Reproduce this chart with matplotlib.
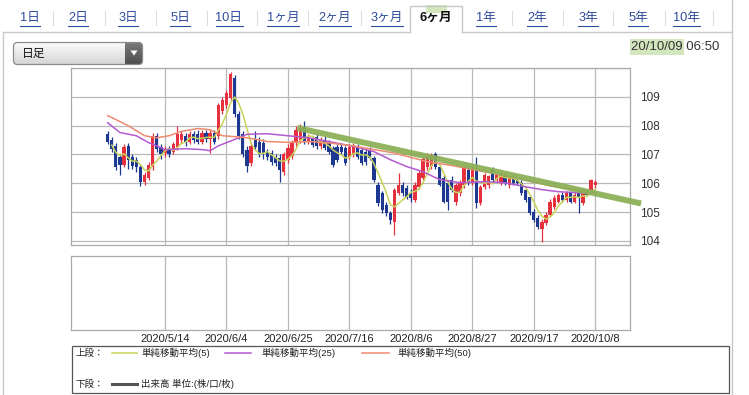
import numpy as np
import pandas as pd
import matplotlib
matplotlib.use('Agg')
import matplotlib.pyplot as plt
from matplotlib.patches import Rectangle, FancyBboxPatch, Polygon
from matplotlib.colors import LinearSegmentedColormap

plt.rcParams['font.family'] = ['Liberation Sans', 'Noto Sans CJK JP', 'DejaVu Sans']

# ---------------- data ----------------
tabs = ['1日', '2日', '3日', '5日', '10日', '1ヶ月', '2ヶ月', '3ヶ月', '6ヶ月',
        '1年', '2年', '3年', '5年', '10年']
active_tab = '6ヶ月'
timestamp_date = '20/10/09'
timestamp_time = '06:50'
dropdown_label = '日足'

dates = pd.bdate_range('2020-04-24', '2020-10-08')
date_ticks = ['2020/5/14', '2020/6/4', '2020/6/25', '2020/7/16', '2020/8/6',
              '2020/8/27', '2020/9/17', '2020/10/8']
y_ticks = [104, 105, 106, 107, 108, 109]

opens = [107.70, 107.50, 107.30, 106.90, 106.65, 107.30, 106.90, 106.80, 106.55, 106.05,
         106.20, 106.55, 107.65, 107.25, 107.05, 107.15, 107.10, 107.25, 107.50, 107.65,
         107.45, 107.70, 107.70, 107.45, 107.75, 107.55, 107.75, 107.65, 108.50, 108.70,
         108.95, 109.65, 108.40, 107.70, 107.17, 106.70, 107.55, 107.45, 107.40, 107.10,
         107.05, 106.90, 106.88, 106.40, 106.82, 106.95, 107.40, 107.50, 107.93, 107.45,
         107.58, 107.60, 107.30, 107.50, 107.40, 107.24, 107.27, 107.27, 107.24, 106.92,
         107.00, 107.27, 107.17, 107.10, 107.17, 106.89, 105.95, 105.67, 105.26, 104.98,
         104.67, 105.67, 105.95, 105.85, 105.67, 105.43, 105.88, 106.20, 106.55, 106.60,
         107.00, 106.58, 106.20, 106.00, 106.13, 105.36, 105.67, 105.95, 106.47, 106.02,
         106.47, 105.33, 105.88, 105.95, 106.47, 106.13, 106.06, 106.24, 105.95, 106.19,
         106.13, 106.02, 105.78, 105.53, 105.01, 104.81, 104.40, 104.63, 104.91, 105.19,
         105.36, 105.60, 105.43, 105.67, 105.36, 105.67, 105.33, 105.71, 105.78, 105.95]
highs = [107.80, 107.60, 107.40, 107.00, 107.35, 107.40, 107.00, 106.90, 106.65, 106.40,
         106.75, 107.75, 107.75, 107.35, 107.30, 107.30, 107.45, 108.00, 107.80, 107.75,
         107.80, 107.80, 107.85, 107.85, 107.85, 107.85, 107.85, 108.80, 109.00, 109.25,
         109.85, 109.75, 108.50, 107.80, 107.30, 107.45, 107.80, 107.60, 107.55, 107.20,
         107.15, 107.00, 107.00, 107.10, 107.35, 107.50, 108.00, 108.05, 108.15, 107.70,
         107.65, 107.70, 107.60, 107.65, 107.50, 107.30, 107.35, 107.40, 107.30, 107.35,
         107.40, 107.35, 107.25, 107.20, 107.25, 106.95, 106.05, 105.75, 105.35, 105.05,
         105.85, 106.36, 106.05, 105.95, 105.80, 106.05, 106.45, 106.95, 107.05, 107.05,
         107.10, 106.65, 106.30, 106.10, 106.25, 106.00, 106.10, 106.60, 106.55, 106.60,
         106.92, 105.95, 106.35, 106.30, 106.55, 106.40, 106.40, 106.35, 106.30, 106.30,
         106.20, 106.10, 105.85, 105.60, 105.10, 104.90, 104.75, 105.00, 105.45, 105.60,
         105.65, 105.70, 105.75, 105.75, 105.70, 105.80, 105.75, 105.80, 106.15, 106.12]
lows = [107.35, 107.10, 106.45, 106.30, 106.55, 106.50, 106.50, 106.40, 105.90, 105.95,
        106.10, 106.45, 107.10, 106.85, 106.90, 106.90, 107.00, 107.15, 107.40, 107.30,
        107.35, 107.40, 107.35, 107.35, 107.45, 107.05, 107.35, 107.55, 108.40, 108.60,
        108.85, 108.30, 107.55, 106.90, 106.40, 106.60, 107.15, 106.90, 106.85, 106.80,
        106.65, 106.60, 106.06, 106.30, 106.70, 106.85, 107.30, 107.40, 107.35, 107.35,
        107.25, 107.20, 107.20, 107.15, 107.00, 106.55, 106.75, 107.00, 106.65, 106.85,
        106.90, 106.85, 106.65, 106.65, 106.80, 106.05, 105.20, 104.98, 104.85, 104.60,
        104.22, 105.60, 105.55, 105.45, 105.35, 105.35, 105.80, 106.10, 106.45, 106.50,
        106.50, 105.90, 105.30, 105.08, 105.70, 105.25, 105.55, 105.85, 105.95, 105.95,
        105.15, 105.25, 105.80, 105.85, 106.05, 106.05, 105.95, 105.95, 105.85, 105.95,
        105.95, 105.60, 105.35, 104.90, 104.65, 104.40, 103.97, 104.55, 104.85, 105.10,
        105.30, 105.35, 105.35, 105.30, 105.30, 104.98, 105.25, 105.55, 105.70, 105.85]
closes = [107.45, 107.20, 106.55, 106.65, 107.25, 106.80, 106.60, 106.55, 106.05, 106.30,
          106.65, 107.65, 107.20, 107.00, 107.15, 107.00, 107.35, 107.70, 107.70, 107.40,
          107.70, 107.50, 107.45, 107.75, 107.55, 107.75, 107.45, 108.70, 108.90, 109.15,
          109.80, 108.40, 107.65, 107.00, 106.60, 107.30, 107.25, 107.00, 107.05, 106.90,
          106.75, 106.72, 106.47, 107.00, 107.24, 107.40, 107.86, 107.93, 107.44, 107.58,
          107.34, 107.30, 107.50, 107.24, 107.10, 106.65, 106.82, 107.10, 106.72, 107.27,
          107.27, 106.92, 106.72, 106.75, 106.89, 106.13, 105.33, 105.08, 104.98, 104.74,
          105.78, 105.95, 105.67, 105.53, 105.50, 105.95, 106.35, 106.85, 106.95, 106.98,
          106.58, 105.95, 105.36, 105.36, 105.78, 105.95, 106.02, 106.54, 106.02, 106.47,
          105.33, 105.88, 106.30, 106.24, 106.13, 106.30, 106.30, 106.02, 106.19, 106.02,
          106.02, 105.67, 105.43, 104.98, 104.74, 104.49, 104.67, 104.91, 105.36, 105.50,
          105.60, 105.43, 105.67, 105.36, 105.60, 105.50, 105.67, 105.60, 106.10, 106.05]

# moving averages (trading-day offset from first candle, value)
ma25_days = [0, 3, 7, 10, 12, 14, 19, 23, 25, 27, 29, 32, 34, 39, 44, 49, 54, 60, 65,
             69, 73, 77, 81, 86, 92, 97, 102, 106, 110, 115, 119]
ma25_vals = [108.10, 107.76, 107.65, 107.41, 107.30, 107.17, 107.20, 107.17, 107.13,
             107.30, 107.41, 107.58, 107.70, 107.72, 107.65, 107.58, 107.45, 107.28,
             107.10, 106.82, 106.58, 106.40, 106.13, 106.02, 106.06, 106.02, 105.88,
             105.78, 105.71, 105.67, 105.67]
ma50_days = [0, 5, 9, 12, 15, 18, 22, 25, 28, 31, 34, 39, 44, 49, 54, 60, 65, 70, 74,
             78, 84, 90, 96, 102, 108, 114, 119]
ma50_vals = [108.35, 108.00, 107.65, 107.58, 107.65, 107.80, 107.90, 107.86, 107.65,
             107.62, 107.58, 107.45, 107.42, 107.45, 107.40, 107.30, 107.17, 107.05,
             106.90, 106.75, 106.62, 106.45, 106.30, 106.10, 105.92, 105.78, 105.68]
trend_days = [46.3, 130.2]
trend_vals = [107.92, 105.30]

legend_upper = ['単純移動平均(5)', '単純移動平均(25)', '単純移動平均(50)']
legend_lower = '出来高 単位:(株/口/枚)'

# ---------------- styles ----------------
UP = '#e6303e'
DOWN = '#1c3890'
C_MA5 = '#c8d25a'
C_MA25 = '#b35ad0'
C_MA50 = '#ef8a70'
C_TREND = '#8aaf55'
GRID = '#b9b9b9'
FRAME = '#c8c8c8'
LINK = '#2f4c9c'

W, H = 749, 395
fig = plt.figure(figsize=(W / 100, H / 100), dpi=100)
fig.patch.set_facecolor('white')

page = fig.add_axes([0, 0, 1, 1])
page.axis('off')


def ax_px(x0, y0, x1, y1):
    return fig.add_axes([x0 / W, 1 - y1 / H, (x1 - x0) / W, (y1 - y0) / H])


# page frame
page.plot([732, 732], [0, H], color=FRAME, lw=1)
page.plot([3, 3], [32, H], color=FRAME, lw=1)
page.plot([3, 410], [32, 32], color=FRAME, lw=1)
page.plot([462, 732], [32, 32], color=FRAME, lw=1)
page.plot([410, 410, 462, 462], [32, 6, 6, 32], color=FRAME, lw=1)
page.add_patch(Rectangle((426, 5), 21, 8, fc='#d3e6bd', ec='none', zorder=1))

tab_x = [30, 78, 128, 180, 229, 283, 335, 387, 436, 486, 537, 588, 638, 686]
sep_x = [53, 105, 156, 207, 257, 308, 361, 410, 462, 512, 563, 613, 665, 713]
tab_texts = []
for lbl, x in zip(tabs, tab_x):
    active = lbl == active_tab
    t = page.text(x, 18, lbl, ha='center', va='center', fontsize=9.2,
                  color='#111111' if active else LINK,
                  fontweight='bold' if active else 'normal', zorder=3)
    tab_texts.append((t, active))
for x in sep_x:
    if x in (410, 462):
        continue
    page.plot([x, x], [11, 25], color='#dddddd', lw=0.8)

# dropdown
box = FancyBboxPatch((13.5, 42.5), 129, 22, boxstyle='round,pad=0,rounding_size=4',
                     fc='none', ec='#8a8a8a', lw=0.9, zorder=3)
page.add_patch(box)
grad = np.linspace(0, 1, 60).reshape(-1, 1)
im = page.imshow(grad, extent=(13.5, 142.5, 64.5, 42.5), aspect='auto', zorder=1,
                 cmap=LinearSegmentedColormap.from_list('g', ['#fbfbfb', '#d6d6d6']))
im.set_clip_path(box)
im2 = page.imshow(grad, extent=(125, 142.5, 64.5, 42.5), aspect='auto', zorder=2,
                  cmap=LinearSegmentedColormap.from_list('b', ['#7c7c7c', '#4e4e4e']))
im2.set_clip_path(box)
page.add_patch(Polygon([(130.5, 50.5), (137.5, 50.5), (134, 55.5)], closed=True,
                       fc='white', ec='none', zorder=4))
page.text(22, 53.5, dropdown_label, ha='left', va='center', fontsize=8.5,
          color='#111111', zorder=4)

# timestamp
page.add_patch(Rectangle((630, 39), 54, 16, fc='#d3e6bd', ec='none', zorder=1))
page.text(631, 47.5, timestamp_date + ' ' + timestamp_time, ha='left', va='center',
          fontsize=9.5, color='#333333', zorder=3)

# legend box
page.add_patch(Rectangle((71.5, 345.5), 657, 47, fc='none', ec='#555555', lw=0.9))
page.text(76, 353, '上段：', ha='left', va='center', fontsize=6.8, color='#222222')
page.text(76, 384, '下段：', ha='left', va='center', fontsize=6.8, color='#222222')
leg_line_x = [(112, 137), (225, 251), (362, 389)]
leg_text_x = [141, 262, 397]
for (a, b), tx, lbl, col in zip(leg_line_x, leg_text_x, legend_upper, [C_MA5, C_MA25, C_MA50]):
    page.plot([a, b], [353, 353], color=col, lw=1.1)
    page.text(tx, 353, lbl, ha='left', va='center', fontsize=6.8, color='#222222')
page.plot([112, 137], [384, 384], color='#555555', lw=2.2)
page.text(141, 384, legend_lower, ha='left', va='center', fontsize=6.8, color='#222222')

page.set_xlim(0, W)
page.set_ylim(H, 0)

# ---------------- main chart ----------------
n = len(dates)
xs = np.arange(n)
date_labels = [f'{d.year}/{d.month}/{d.day}' for d in dates]
tick_pos = [date_labels.index(s) for s in date_ticks]
x_left, x_right = -8.95, 127.5

ax = ax_px(71, 68, 630, 245)
ax.set_xlim(x_left, x_right)
ax.set_ylim(103.86, 110.0)
for s in ax.spines.values():
    s.set_color('#aaaaaa')
    s.set_linewidth(0.9)
ax.set_xticks(tick_pos)
ax.set_xticklabels([])
ax.set_yticks(y_ticks + [110])
ax.set_yticklabels([str(v) for v in y_ticks] + [''])
ax.yaxis.tick_right()
ax.tick_params(axis='both', length=0, labelsize=8.5, labelcolor='#333333', pad=7)
ax.grid(True, color=GRID, lw=0.9)
ax.set_axisbelow(True)

o = np.array(opens); h = np.array(highs); l = np.array(lows); c = np.array(closes)
cols = np.where(c >= o, UP, DOWN)
ax.vlines(xs, l, h, colors=cols, lw=0.9, zorder=2)
body_lo = np.minimum(o, c)
body_h = np.maximum(np.abs(c - o), 0.03)
ax.bar(xs, body_h, bottom=body_lo, width=0.8, color=cols, lw=0, zorder=3)

ma5 = pd.Series(closes).rolling(5, min_periods=2).mean()
ax.plot(xs, ma5, color=C_MA5, lw=1.1, zorder=4)
ax.plot(ma25_days, ma25_vals, color=C_MA25, lw=1.1, zorder=4)
ax.plot(ma50_days, ma50_vals, color=C_MA50, lw=1.1, zorder=4)
ax.plot(trend_days, trend_vals, color=C_TREND, lw=4.3, alpha=0.92,
        solid_capstyle='butt', zorder=5, clip_on=False)

# ---------------- lower (volume) panel ----------------
ax2 = ax_px(71, 256, 630, 330)
ax2.set_xlim(x_left, x_right)
ax2.set_ylim(0, 1)
for s in ax2.spines.values():
    s.set_color('#aaaaaa')
    s.set_linewidth(0.9)
ax2.set_yticks([])
ax2.set_xticks(tick_pos)
ax2.set_xticklabels(date_ticks)
ax2.tick_params(axis='x', length=0, labelsize=8, labelcolor='#222222', pad=3)
ax2.grid(True, axis='x', color=GRID, lw=0.9)

# underline tab links
fig.canvas.draw()
for t, active in tab_texts:
    if active:
        continue
    bb = t.get_window_extent()
    page.plot([bb.x0, bb.x1], [25.5, 25.5], color=LINK, lw=0.8)
page.set_xlim(0, W)
page.set_ylim(H, 0)

fig.savefig('out.png', dpi=100)
